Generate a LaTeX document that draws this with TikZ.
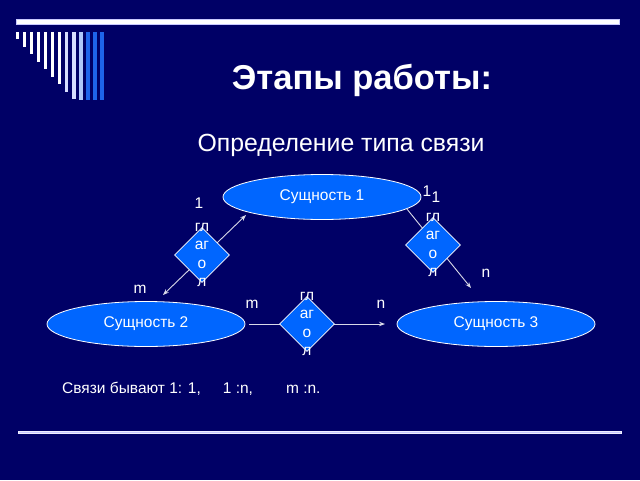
\documentclass[tikz,border=0pt]{standalone}
\usepackage{fontspec}
\setmainfont{Liberation Sans}
\usetikzlibrary{shapes.geometric,arrows.meta}

\definecolor{slidebg}{RGB}{0,0,102}
\definecolor{entblue}{RGB}{0,102,255}
\definecolor{barblue}{RGB}{30,100,235}
\definecolor{barpale}{RGB}{215,222,255}
\definecolor{barlight}{RGB}{175,200,250}
\definecolor{rulecol}{RGB}{200,200,255}

\tikzset{
  entity/.style={ellipse, draw=white, line width=0.8pt, fill=entblue,
    minimum width=198pt, minimum height=45pt, text=white,
    font=\fontsize{15.5}{18}\selectfont},
  relation/.style={diamond, draw=white, line width=0.8pt, fill=entblue,
    minimum width=55pt, minimum height=55pt, inner sep=0pt},
  reltext/.style={align=center, text=white, inner sep=0pt,
    font=\fontsize{15.5}{18.6}\selectfont},
  card/.style={text=white, inner sep=0pt, font=\fontsize{15.5}{18}\selectfont},
  conn/.style={draw=white!85!slidebg, line width=0.9pt,
    >={Stealth[length=6pt,width=4.5pt]}},
}

\begin{document}
\begin{tikzpicture}[x=1pt,y=-1pt]

% Slide
\useasboundingbox (0,0) rectangle (640,480);
\fill[slidebg] (0,0) rectangle (640,480);

% Bars at the top
\fill[white,draw=rulecol,line width=0.5pt] (16,19) rectangle (619,24);
\foreach \k/\col in {1/white,2/white,3/white,4/white,5/white,6/white,7/white,
                     8/barpale,9/barpale,10/barlight,11/barblue,12/barblue,13/barblue}
  \fill[\col] ({15.5+7.07*(\k-1)},32) rectangle ++(3.5,{min(7.45*\k,68)});

% Headings
\node[text=white, anchor=base, font=\fontsize{34.5}{40}\bfseries] (title) at (362,89) {Этапы работы:};
\node[text=white, anchor=base, font=\fontsize{24.8}{30}\selectfont] (subtitle) at (341,151) {Определение типа связи};

% Entities
\node[entity] (ent1) at (322,197) {Сущность 1};
\node[entity] (ent2) at (146,324) {Сущность 2};
\node[entity] (ent3) at (496,324) {Сущность 3};

% Connectors
\coordinate (l-bot) at (163,295);
\coordinate (l-top) at (246,215);
\coordinate (r-end) at (471,288);
\coordinate (m-end) at (385,324);
\draw[conn,<->] (l-bot) -- (l-top);
\draw[conn,->] (ent1.-8) -- (r-end);
\draw[conn,->,shorten <=4pt] (ent2.east) -- (m-end);

% Relations
\node[relation] (rel1) at (202,255) {};
\node[relation] (rel2) at (433,245) {};
\node[relation] (rel3) at (307,324) {};
\node[reltext] (rel1-txt) at (rel1) {гл\\аг\\о\\л};
\node[reltext] (rel2-txt) at (rel2) {гл\\аг\\о\\л};
\node[reltext] (rel3-txt) at (rel3) {гл\\аг\\о\\л};

% Cardinalities
\node[card] (c1) at (199,203) {1};
\node[card] (c2) at (140,289) {m};
\node[card] (c3) at (427,191) {1};
\node[card] (c4) at (436,197) {1};
\node[card] (c5) at (486,273) {n};
\node[card] (c6) at (252,304) {m};
\node[card] (c7) at (381,304) {n};

% Note
\node[card, anchor=base west] (note) at (62,393)
  {Связи бывают 1: 1,\hspace{22pt}1 :n,\hspace{33pt}m :n.};

% Rule at the bottom
\fill[rulecol,draw=white!70!rulecol,line width=0.4pt] (18,431.5) rectangle (621,433.5);

\end{tikzpicture}
\end{document}
